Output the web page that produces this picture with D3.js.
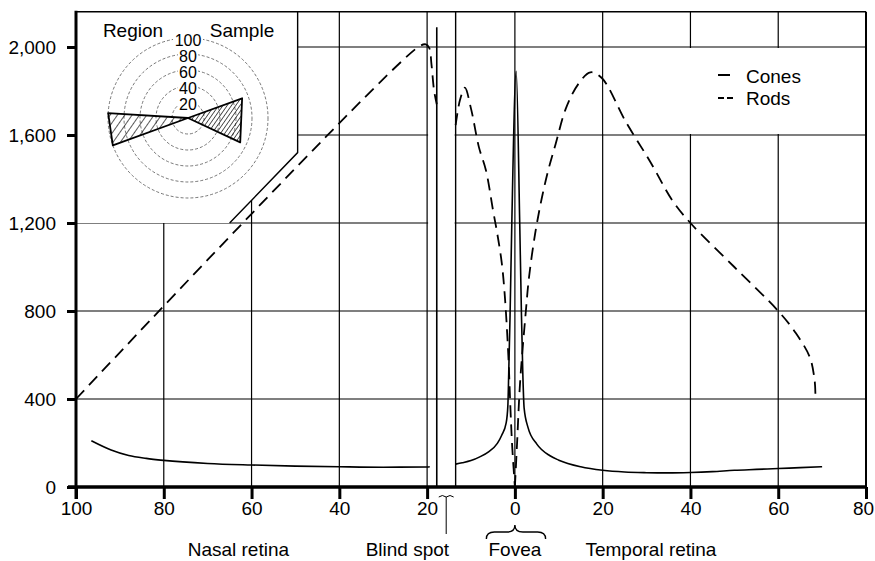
<!DOCTYPE html>
<html>
<head>
<meta charset="utf-8">
<script src="https://cdn.jsdelivr.net/npm/d3@7"></script>
<style>
  body { margin: 0; background: #fff; }
  svg { font-family: "Liberation Sans", Arial, Helvetica, sans-serif; }
  .grid line { stroke: #000; stroke-width: 1.2; }
  .tick text { font-size: 19px; fill: #000; }
</style>
</head>
<body>
<svg width="875" height="561"></svg>
<script>
// ---- data (eccentricity in degrees: nasal negative, temporal positive) ----
const xTicks = [-100, -80, -60, -40, -20, 0, 20, 40, 60, 80];
const yTicks = [0, 400, 800, 1200, 1600, 2000];

const conesNasal = [[-96.5, 210], [-92, 168], [-88, 143], [-84, 130], [-80, 121], [-70, 107], [-60, 100],
  [-50, 95], [-40, 92], [-30, 90], [-20, 91], [-19.4, 92]];
const conesCentral = [[-13.5, 104], [-12, 110], [-10, 120], [-8, 137], [-6, 160], [-4, 198], [-3, 235],
  [-2, 290], [-1.6, 370], [-1.4, 520], [-1.1, 780], [-0.7, 1200], [0.3, 1890], [1.1, 1200], [1.5, 780],
  [1.8, 520], [2.1, 360], [3, 270], [5, 195], [8, 142], [10, 122], [15, 92], [20, 76], [25, 68],
  [30, 65], [35, 64], [40, 66], [45, 70], [50, 76], [55, 80], [60, 84], [65, 88], [70, 92]];

const rodsNasal = [[-100, 400], [-22, 2000], [-20.3, 2012], [-19.5, 1995], [-19, 1920], [-18.4, 1800], [-17.8, 1740]];
const rodsParafovea = [[-13.5, 1645], [-12.5, 1760], [-11.4, 1815], [-10, 1720], [-8.2, 1545], [-6.6, 1440],
  [-5, 1260], [-4, 1150], [-3, 1020], [-2.3, 870], [-1.5, 600], [-1, 350], [-0.6, 180], [0, 0]];
const rodsTemporal = [[0, 0], [0.5, 200], [1.2, 480], [2.5, 800], [3.2, 950], [4.6, 1150], [6.1, 1310],
  [7.6, 1440], [9.3, 1560], [11.6, 1720], [14.4, 1830], [17.2, 1885], [19.8, 1859], [25.3, 1659],
  [31, 1473], [35.8, 1305], [40, 1200], [50, 1000], [60, 800], [64, 700], [67.2, 590], [68.2, 500],
  [68.4, 460], [68.5, 395]];

const blindSpot = [-17.8, -13.5];

// polar inset (Region / Sample)
const ringValues = [20, 40, 60, 80, 100];
const wedges = [
  { name: "Region", a0: 160, a1: 183.5, r: 100 },
  { name: "Sample", a0: -20, a1: 25, r: 72 }
];

const bottomLabels = [
  { text: "Nasal retina", at: -63 },
  { text: "Blind spot", at: -24.5 },
  { text: "Fovea", at: 0 },
  { text: "Temporal retina", at: 31 }
];

// ---- layout ----
const svg = d3.select("svg");
const x = d3.scaleLinear().domain([-100, 80]).range([76, 866]);
const y = d3.scaleLinear().domain([0, 2000]).range([487, 47]);
const yTop = y(2160);

// grid
const grid = svg.append("g").attr("class", "grid");
grid.selectAll(".v").data(xTicks.slice(1, -1)).join("line")
  .attr("x1", d => x(d)).attr("x2", d => x(d))
  .attr("y1", yTop).attr("y2", y(0));
grid.selectAll(".h").data(yTicks.slice(1)).join("line")
  .attr("x1", x(-100)).attr("x2", x(80))
  .attr("y1", d => y(d)).attr("y2", d => y(d));

// legend box blanks grid inside it
svg.append("rect")
  .attr("x", x(20) + 1).attr("y", y(2000) + 1)
  .attr("width", x(80) - x(20) - 2).attr("height", y(1600) - y(2000) - 2)
  .attr("fill", "#fff");

// blind spot strip
svg.append("rect")
  .attr("x", x(-20) + 1).attr("y", y(2000) + 1)
  .attr("width", x(blindSpot[1]) - x(-20) - 2).attr("height", y(800) - y(2000) - 2)
  .attr("fill", "#fff");
svg.append("line")
  .attr("x1", x(blindSpot[0])).attr("x2", x(blindSpot[0]))
  .attr("y1", y(2090)).attr("y2", y(0))
  .attr("stroke", "#000").attr("stroke-width", 1.6);
svg.append("line")
  .attr("x1", x(blindSpot[1])).attr("x2", x(blindSpot[1]))
  .attr("y1", yTop).attr("y2", y(0))
  .attr("stroke", "#000").attr("stroke-width", 1.4);

// inset panel
const insetOutline = [[-100, 2160], [-49.5, 2160], [-49.5, 1520], [-65, 1200], [-100, 1200]];
svg.append("path")
  .attr("d", d3.line().x(d => x(d[0])).y(d => y(d[1]))(insetOutline))
  .attr("fill", "#fff").attr("stroke", "none");
svg.append("path")
  .attr("d", d3.line().x(d => x(d[0])).y(d => y(d[1]))(insetOutline.slice(1, 4)))
  .attr("fill", "none").attr("stroke", "#000").attr("stroke-width", 1.4);

// frame: top and right
svg.append("line").attr("x1", x(-100)).attr("x2", x(80)).attr("y1", yTop).attr("y2", yTop)
  .attr("stroke", "#000").attr("stroke-width", 1.6);
svg.append("line").attr("x1", x(80)).attr("x2", x(80)).attr("y1", yTop).attr("y2", y(0))
  .attr("stroke", "#000").attr("stroke-width", 2);

// curves
const coneLine = d3.line().x(d => x(d[0])).y(d => y(d[1])).curve(d3.curveMonotoneX);
const rodLine = d3.line().x(d => x(d[0])).y(d => y(d[1])).curve(d3.curveCatmullRom.alpha(0.5));
[conesNasal, conesCentral].forEach(s => {
  svg.append("path").attr("d", coneLine(s))
    .attr("fill", "none").attr("stroke", "#000").attr("stroke-width", 1.6);
});
[rodsNasal, rodsParafovea, rodsTemporal].forEach(s => {
  svg.append("path").attr("d", rodLine(s))
    .attr("fill", "none").attr("stroke", "#000").attr("stroke-width", 1.8)
    .attr("stroke-dasharray", "12,7");
});

// axes
const xAxis = svg.append("g")
  .attr("transform", `translate(0,${y(0)})`)
  .call(d3.axisBottom(x).tickValues(xTicks).tickFormat(d => Math.abs(d)).tickSize(12).tickPadding(3));
xAxis.select(".domain").attr("stroke", "#000").attr("stroke-width", 3.5).attr("d", `M${x(-100) - 8},0H${x(80) + 1}`);
xAxis.selectAll(".tick line").attr("stroke", "#000").attr("stroke-width", 3);
xAxis.selectAll(".tick text").filter(d => d === 80).attr("dx", -3);

const yAxis = svg.append("g")
  .attr("transform", `translate(${x(-100)},0)`)
  .call(d3.axisLeft(y).tickValues(yTicks).tickFormat(d3.format(",")).tickSize(9).tickPadding(11));
yAxis.select(".domain").attr("stroke", "#000").attr("stroke-width", 3).attr("d", `M0,${yTop - 1}V${y(0) + 12}`);
yAxis.selectAll(".tick line").attr("stroke", "#000").attr("stroke-width", 3);

// polar inset
const cx = 188, cy = 118;
const r = d3.scaleLinear().domain([0, 100]).range([0, 80]);
const defs = svg.append("defs");
[["hatchA", 6], ["hatchB", 3.5]].forEach(([id, s]) => {
  defs.append("pattern").attr("id", id).attr("patternUnits", "userSpaceOnUse")
    .attr("width", s).attr("height", s).attr("patternTransform", "rotate(35)")
    .append("line").attr("x1", 0).attr("y1", 0).attr("x2", 0).attr("y2", s)
    .attr("stroke", "#000").attr("stroke-width", 1.3);
});
const polar = svg.append("g").attr("transform", `translate(${cx},${cy})`);
polar.selectAll("circle").data(ringValues).join("circle")
  .attr("r", d => r(d)).attr("fill", "none")
  .attr("stroke", "#555").attr("stroke-width", 0.8).attr("stroke-dasharray", "3,2");
polar.selectAll(".wedge").data(wedges).join("path")
  .attr("class", "wedge")
  .attr("d", w => {
    const p = a => [r(w.r) * Math.cos(a * Math.PI / 180), r(w.r) * Math.sin(a * Math.PI / 180)];
    return "M0,0L" + p(w.a0).join(",") + "L" + p(w.a1).join(",") + "Z";
  })
  .attr("fill", (w, i) => i === 0 ? "url(#hatchA)" : "url(#hatchB)")
  .attr("stroke", "#000").attr("stroke-width", 1.8).attr("stroke-linejoin", "round");
polar.selectAll(".ringBg").data(ringValues).join("rect")
  .attr("class", "ringBg")
  .attr("x", d => d === 100 ? -15 : -10).attr("y", d => -r(d) - 5)
  .attr("width", d => d === 100 ? 30 : 20).attr("height", 12)
  .attr("fill", "#fff");
polar.selectAll(".ringLabel").data(ringValues).join("text")
  .attr("class", "ringLabel")
  .attr("x", 0).attr("y", d => -r(d) + 2)
  .attr("dy", "0.35em").attr("text-anchor", "middle")
  .attr("font-size", 16).attr("fill", "#000")
  .text(d => d);
svg.selectAll(".wedgeName").data(wedges).join("text")
  .attr("class", "wedgeName")
  .attr("x", (w, i) => i === 0 ? 133 : 242).attr("y", 30)
  .attr("dy", "0.35em").attr("text-anchor", "middle").attr("font-size", 19)
  .text(w => w.name);

// legend
const legend = svg.append("g").attr("transform", `translate(718,0)`);
legend.append("line").attr("x1", 0).attr("x2", 12).attr("y1", 75).attr("y2", 75)
  .attr("stroke", "#000").attr("stroke-width", 2);
legend.append("line").attr("x1", 0).attr("x2", 15).attr("y1", 98).attr("y2", 98)
  .attr("stroke", "#000").attr("stroke-width", 1.8).attr("stroke-dasharray", "6,3");
legend.append("text").attr("x", 28).attr("y", 76).attr("dy", "0.35em").attr("font-size", 19).text("Cones");
legend.append("text").attr("x", 28).attr("y", 98).attr("dy", "0.35em").attr("font-size", 19).text("Rods");

// blind spot marker under axis
const bsMid = (x(blindSpot[0]) + x(blindSpot[1])) / 2;
svg.append("path")
  .attr("d", `M${x(blindSpot[0]) + 2},497Q${bsMid - 4},494 ${bsMid},497Q${bsMid + 4},494 ${x(blindSpot[1]) - 2},497`)
  .attr("fill", "none").attr("stroke", "#000").attr("stroke-width", 1);
svg.append("line").attr("x1", bsMid).attr("x2", bsMid).attr("y1", 497).attr("y2", 534)
  .attr("stroke", "#000").attr("stroke-width", 1);

// fovea brace
const f0 = x(-6.5), f1 = x(7), fm = x(0);
svg.append("path")
  .attr("d", `M${f0},539Q${f0},532 ${f0 + 8},532L${fm - 8},532Q${fm},532 ${fm},525Q${fm},532 ${fm + 8},532L${f1 - 8},532Q${f1},532 ${f1},539`)
  .attr("fill", "none").attr("stroke", "#000").attr("stroke-width", 1.4);

// bottom labels
svg.selectAll(".bl").data(bottomLabels).join("text")
  .attr("class", "bl")
  .attr("x", d => x(d.at)).attr("y", 549)
  .attr("dy", "0.35em").attr("text-anchor", "middle").attr("font-size", 19)
  .text(d => d.text);
</script>
</body>
</html>
